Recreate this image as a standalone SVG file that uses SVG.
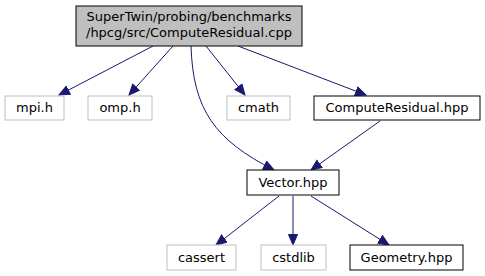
<svg xmlns="http://www.w3.org/2000/svg" width="485" height="276" viewBox="0 0 485 276">
  <style>
    .lbl { font-family: "DejaVu Sans", sans-serif; font-size: 13px; fill: #000; text-anchor: middle; }
    .main { fill: #bfbfbf; stroke: #000; stroke-width: 1; }
    .doc { fill: #fff; stroke: #000; stroke-width: 1; }
    .sys { fill: #fff; stroke: #bfbfbf; stroke-width: 1; }
    .edge { fill: none; stroke: #191970; stroke-width: 1; }
  </style>
  <defs>
    <marker id="arrow" markerUnits="userSpaceOnUse" markerWidth="13" markerHeight="12" refX="11" refY="5" orient="auto">
      <polygon points="0.5,0.5 11,5 0.5,9.5" fill="#191970" stroke="#191970" stroke-width="1"/>
    </marker>
  </defs>
  <rect width="485" height="276" fill="#fff"/>

  <g id="edges">
    <path class="edge" marker-end="url(#arrow)" d="M153,46 L59,95"/>
    <path class="edge" marker-end="url(#arrow)" d="M173,46 L129,95"/>
    <path class="edge" marker-end="url(#arrow)" d="M206,46 L245,95"/>
    <path class="edge" marker-end="url(#arrow)" d="M238,46 L366,95"/>
    <path class="edge" marker-end="url(#arrow)" d="M191,46 C193,110 215,140 274,170"/>
    <path class="edge" marker-end="url(#arrow)" d="M380,121 L311,170"/>
    <path class="edge" marker-end="url(#arrow)" d="M279,196 L216,245"/>
    <path class="edge" marker-end="url(#arrow)" d="M293,196 L293,245"/>
    <path class="edge" marker-end="url(#arrow)" d="M311,196 L389,245"/>
  </g>

  <g id="node-main">
    <rect class="main" x="76" y="6" width="226" height="40"/>
    <text class="lbl" x="189" y="21">SuperTwin/probing/benchmarks</text>
    <text class="lbl" x="189" y="37">/hpcg/src/ComputeResidual.cpp</text>
  </g>
  <g id="node-mpi">
    <rect class="sys" x="5" y="96" width="59" height="24"/>
    <text class="lbl" x="34.5" y="112">mpi.h</text>
  </g>
  <g id="node-omp">
    <rect class="sys" x="88" y="96" width="64" height="24"/>
    <text class="lbl" x="120" y="112">omp.h</text>
  </g>
  <g id="node-cmath">
    <rect class="sys" x="227" y="96" width="63" height="24"/>
    <text class="lbl" x="258.5" y="112">cmath</text>
  </g>
  <g id="node-computeresidual-hpp">
    <rect class="doc" x="314" y="96" width="166" height="24"/>
    <text class="lbl" x="397" y="112">ComputeResidual.hpp</text>
  </g>
  <g id="node-vector">
    <rect class="doc" x="247" y="170" width="92" height="25"/>
    <text class="lbl" x="293" y="187">Vector.hpp</text>
  </g>
  <g id="node-cassert">
    <rect class="sys" x="167" y="245" width="69" height="25"/>
    <text class="lbl" x="201.5" y="262">cassert</text>
  </g>
  <g id="node-cstdlib">
    <rect class="sys" x="261" y="245" width="65" height="25"/>
    <text class="lbl" x="293.5" y="262">cstdlib</text>
  </g>
  <g id="node-geometry">
    <rect class="doc" x="350" y="245" width="113" height="25"/>
    <text class="lbl" x="406.5" y="262">Geometry.hpp</text>
  </g>
</svg>
